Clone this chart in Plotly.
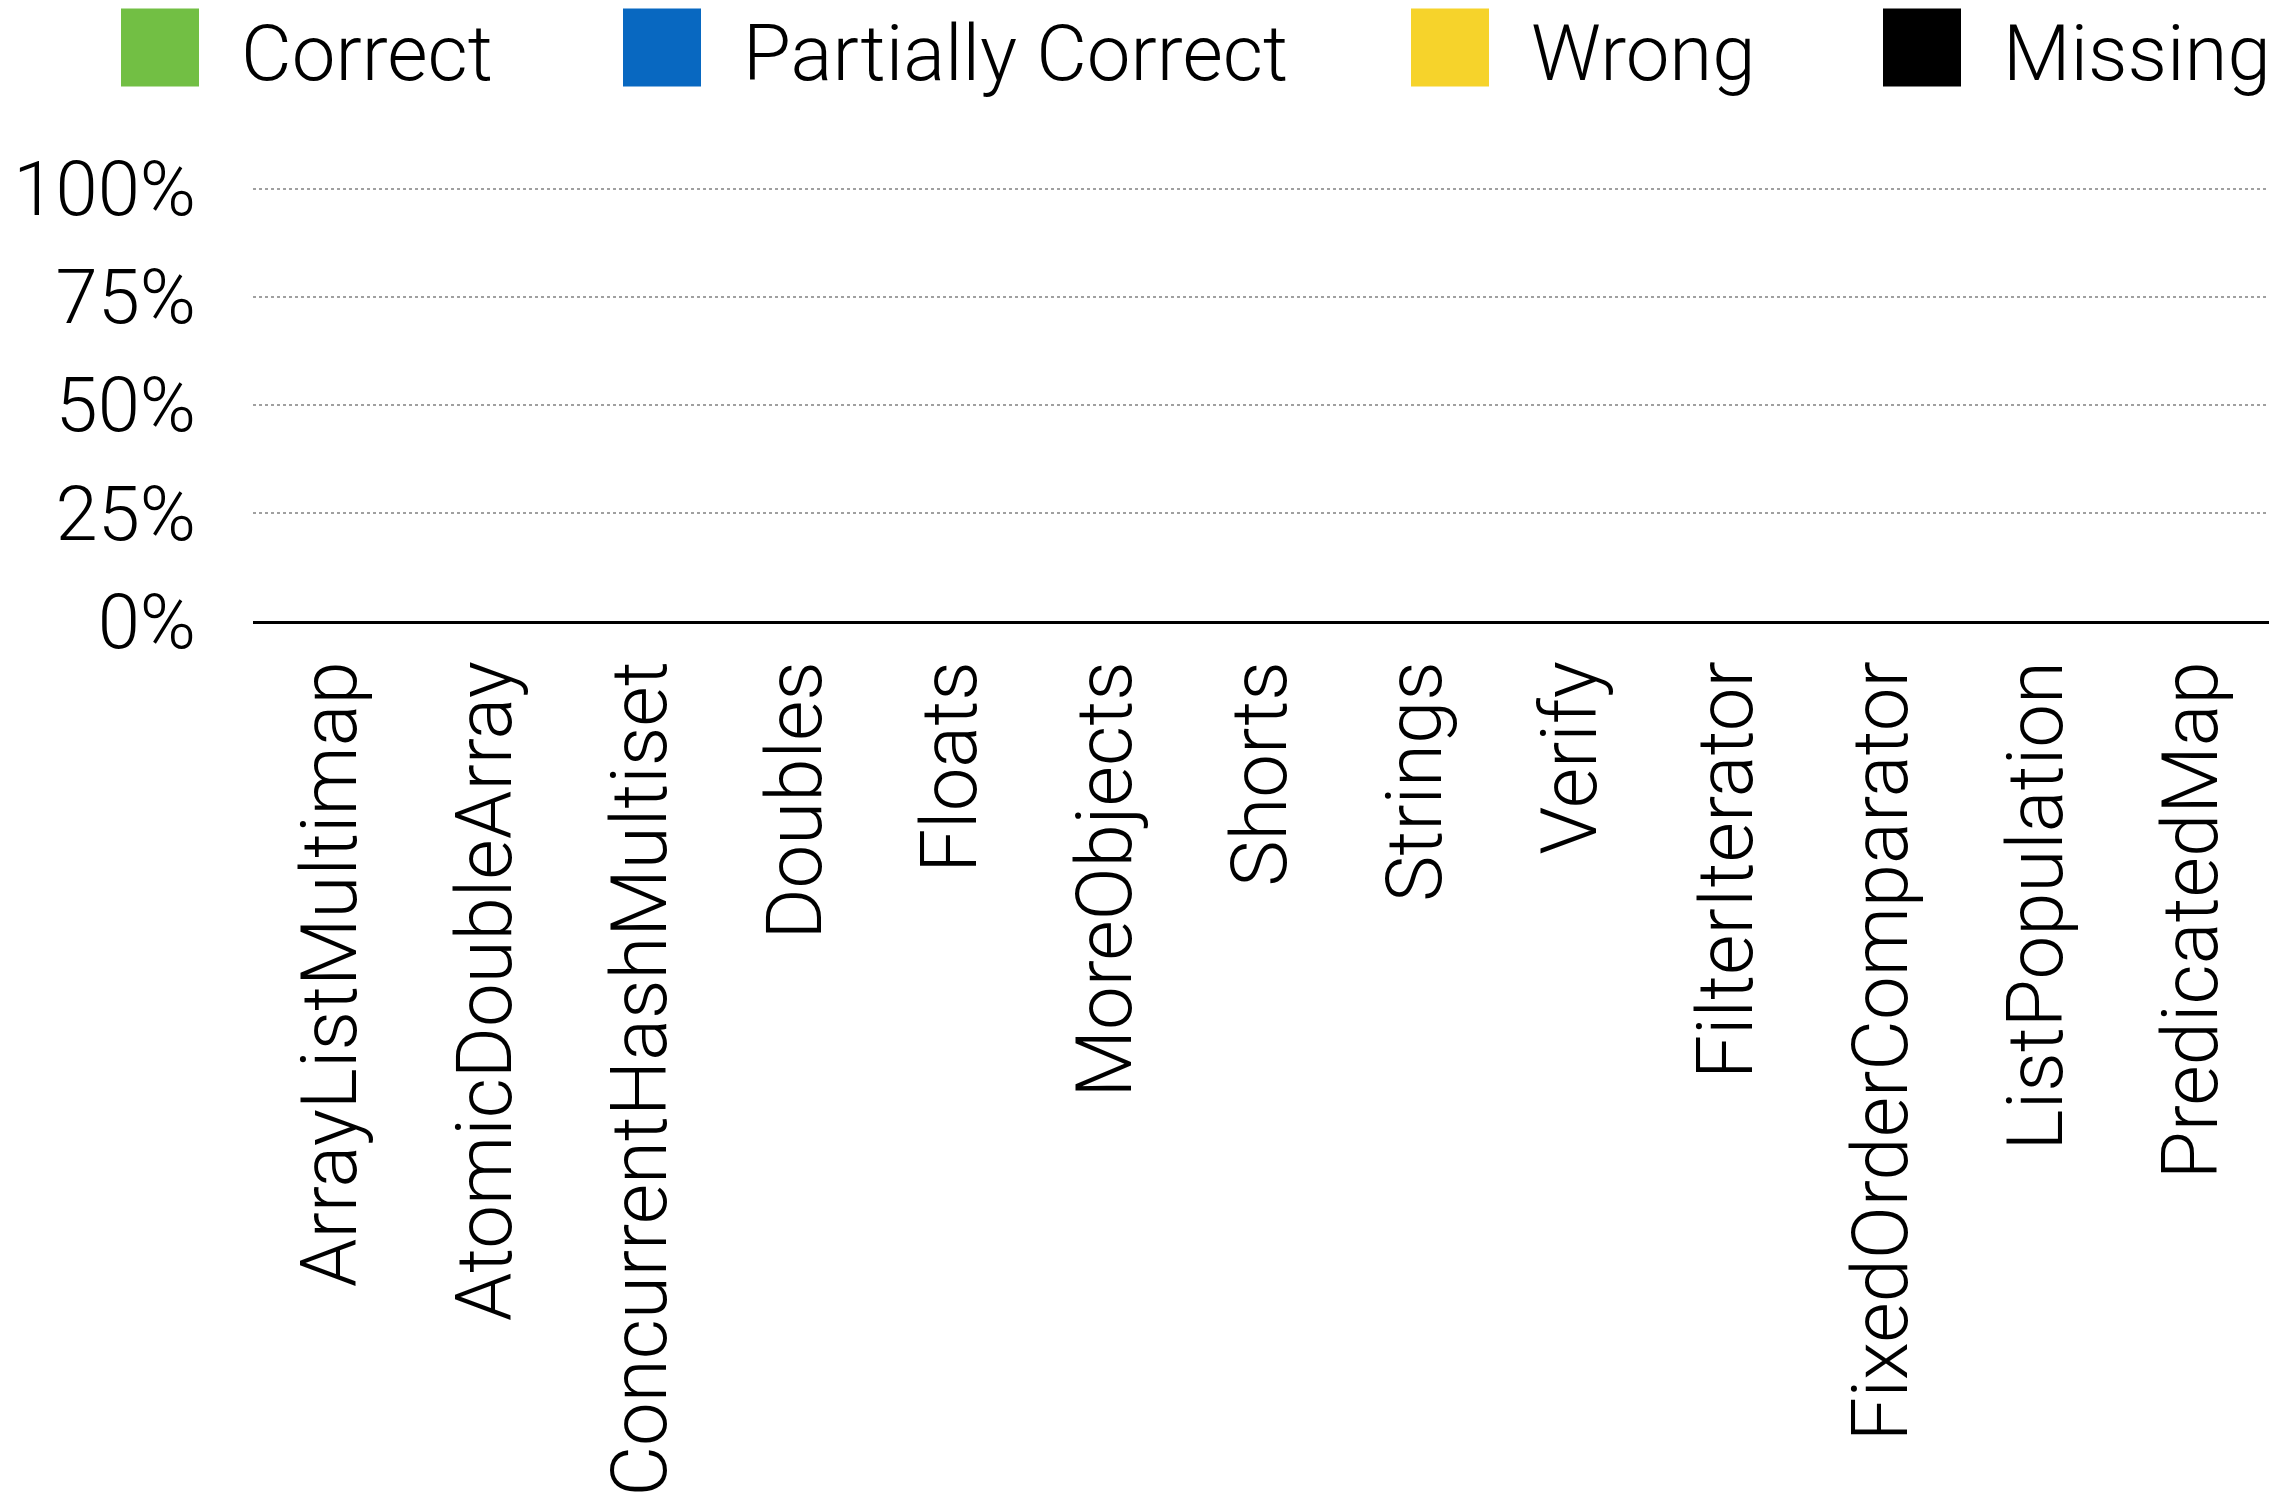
import plotly.graph_objects as go

categories = ["ArrayListMultimap", "AtomicDoubleArray", "ConcurrentHashMultiset", "Doubles",
              "Floats", "MoreObjects", "Shorts", "Strings", "Verify", "FilterIterator",
              "FixedOrderComparator", "ListPopulation", "PredicatedMap"]
correct = [0] * 13
partially_correct = [0] * 13
wrong = [0] * 13
missing = [0] * 13
series_names = ["Correct", "Partially Correct", "Wrong", "Missing"]
series_values = [correct, partially_correct, wrong, missing]
series_colors = ["#72BF44", "#0868C1", "#F6D32B", "#000000"]
y_ticks = [0, 25, 50, 75, 100]
y_tick_labels = ["0%", "25%", "50%", "75%", "100%"]

FONT = "Roboto"
WEIGHT = 300
W, H = 2283, 1499
OFF = 8  # page body offset
PL, PR = 253 - OFF, 2269 - OFF   # plot left/right in figure px
Y0 = 621 - OFF                   # pixel of 0%
UNIT = 4.32                      # px per percent
YMAX = 102
PT = Y0 - UNIT * YMAX

def px(X):
    return (X - OFF - PL) / (PR - PL)

def py(Y):
    return (Y0 - (Y - OFF)) / (UNIT * YMAX)

fig = go.Figure()
for name, vals, col in zip(series_names, series_values, series_colors):
    fig.add_trace(go.Bar(x=categories, y=vals, name=name, marker_color=col, showlegend=False))

# manual legend (large square swatches); positions in screen px
sq_x = [121, 623, 1411, 1883]
for name, col, x0 in zip(series_names, series_colors, sq_x):
    fig.add_shape(type="rect", xref="paper", yref="paper",
                  x0=px(x0), x1=px(x0 + 78), y0=py(87), y1=py(9),
                  fillcolor=col, line_width=0)
    fig.add_annotation(text=name, xref="paper", yref="paper",
                       x=px(x0 + 78 + 40), y=py(54),
                       xanchor="left", yanchor="middle", showarrow=False,
                       font=dict(family=FONT, size=78, color="#000", weight=WEIGHT))

fig.update_layout(
    barmode="stack",
    width=W, height=H,
    margin=dict(l=PL, r=W - PR, t=PT, b=H - Y0, autoexpand=False),
    paper_bgcolor="white", plot_bgcolor="white",
    font=dict(family=FONT, color="#000", weight=WEIGHT),
    bargap=0.3,
)
fig.update_xaxes(
    type="category", tickangle=-90, showline=True, linecolor="#000", linewidth=3,
    showgrid=False, ticks="", automargin=False,
    tickfont=dict(family=FONT, size=78, color="#000", weight=WEIGHT),
    ticklabelstandoff=6,
)
fig.update_yaxes(
    range=[0, YMAX], tickvals=y_ticks, ticktext=y_tick_labels,
    showgrid=True, gridcolor="#a0a0a0", gridwidth=1.5, griddash="3px,3px",
    zeroline=False, showline=False, ticks="", automargin=False,
    tickfont=dict(family=FONT, size=76, color="#000", weight=WEIGHT), ticklabelstandoff=56,
)
fig.write_html("out.html")
